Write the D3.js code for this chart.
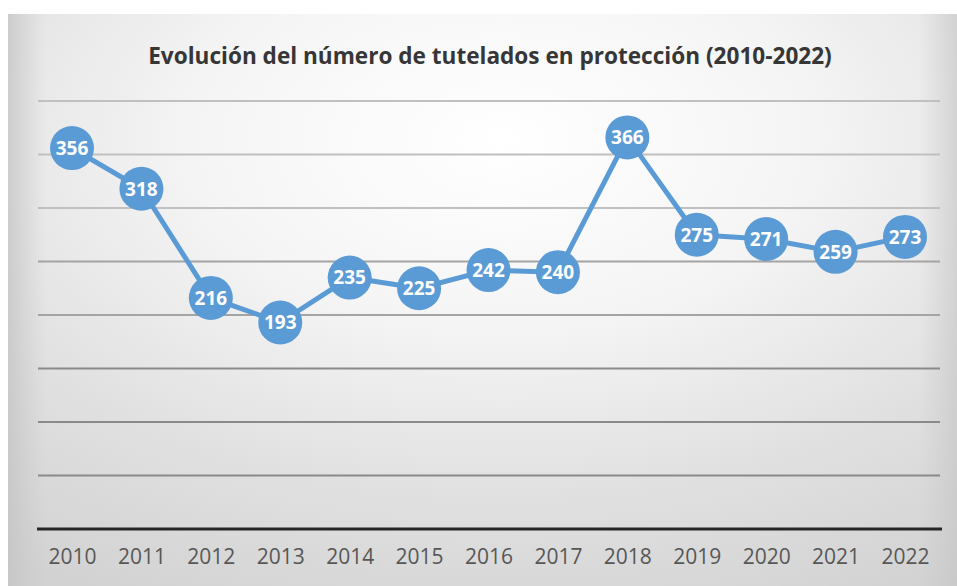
<!DOCTYPE html>
<html>
<head>
<meta charset="utf-8">
<script src="https://cdn.jsdelivr.net/npm/d3@7"></script>
<style>
  html, body { margin: 0; padding: 0; background: #ffffff; }
  svg { display: block; }
</style>
</head>
<body>
<svg id="chart" width="957" height="586"></svg>
<script>
// Tutelados en protección por año
const years = ["2010","2011","2012","2013","2014","2015","2016","2017","2018","2019","2020","2021","2022"];
const tutelados = [356, 318, 216, 193, 235, 225, 242, 240, 366, 275, 271, 259, 273];
const gridTicks = [0, 50, 100, 150, 200, 250, 300, 350, 400];
const titleText = "Evolución del número de tutelados en protección (2010-2022)";

const svg = d3.select("#chart");
const W = 957, H = 586;

// Panel background with soft shading
const defs = svg.append("defs");
const rg = defs.append("radialGradient")
  .attr("id", "bg").attr("cx", "52%").attr("cy", "22%").attr("r", "90%")
  .attr("fx", "52%").attr("fy", "22%");
rg.append("stop").attr("offset", "0%").attr("stop-color", "#ffffff");
rg.append("stop").attr("offset", "35%").attr("stop-color", "#f5f5f5");
rg.append("stop").attr("offset", "70%").attr("stop-color", "#e0e0e0");
rg.append("stop").attr("offset", "100%").attr("stop-color", "#d2d2d2");

const lg = defs.append("linearGradient").attr("id", "edge").attr("x1", "0").attr("x2", "1");
lg.append("stop").attr("offset", "0%").attr("stop-color", "#c2c2c2").attr("stop-opacity", 0.7);
lg.append("stop").attr("offset", "4%").attr("stop-color", "#c8c8c8").attr("stop-opacity", 0.0);
lg.append("stop").attr("offset", "96%").attr("stop-color", "#c8c8c8").attr("stop-opacity", 0.0);
lg.append("stop").attr("offset", "100%").attr("stop-color", "#c4c4c4").attr("stop-opacity", 0.6);

svg.append("rect").attr("x", 8).attr("y", 14).attr("width", W - 8).attr("height", H - 14)
  .attr("fill", "url(#bg)");
svg.append("rect").attr("x", 8).attr("y", 14).attr("width", W - 8).attr("height", H - 14)
  .attr("fill", "url(#edge)");

// Scales
const x = d3.scalePoint().domain(years).range([72, 905]);
const y = d3.scaleLinear().domain([0, 400]).range([529, 101]);

// Gridlines
svg.append("g").selectAll("line")
  .data(gridTicks.filter(d => d > 0))
  .join("line")
  .attr("x1", 38).attr("x2", 940)
  .attr("y1", d => y(d)).attr("y2", d => y(d))
  .attr("stroke", d => d >= 300 ? "#c0c0c0" : (d >= 200 ? "#a4a4a4" : "#8a8a8a"))
  .attr("stroke-width", 1.8);

// Baseline
svg.append("line")
  .attr("x1", 37).attr("x2", 942)
  .attr("y1", y(0)).attr("y2", y(0))
  .attr("stroke", "#262626").attr("stroke-width", 3.2);

// Category axis labels
const xAxis = d3.axisBottom(x).tickSize(0).tickPadding(0);
const gx = svg.append("g").attr("transform", `translate(0,${y(0) + 16})`).call(xAxis);
gx.select(".domain").remove();
gx.selectAll("text")
  .attr("dy", "0.9em")
  .attr("font-family", "'Open Sans', sans-serif")
  .attr("font-size", 21)
  .attr("fill", "#575757");

// Title, sized so it spans about 684px
const title = svg.append("text")
  .attr("x", 490).attr("y", 64)
  .attr("text-anchor", "middle")
  .attr("font-family", "'Liberation Sans Narrow', 'Open Sans', sans-serif")
  .attr("font-weight", "bold")
  .attr("font-size", 27)
  .attr("fill", "#363636")
  .text(titleText);
const tw = title.node().getComputedTextLength();
if (tw > 0) title.attr("font-size", Math.min(30, 27 * 684 / tw));

// Series line
const blue = "#5b9bd5";
const line = d3.line().x((d, i) => x(years[i])).y(d => y(d));
svg.append("path")
  .datum(tutelados)
  .attr("d", line)
  .attr("fill", "none")
  .attr("stroke", blue)
  .attr("stroke-width", 5)
  .attr("stroke-linejoin", "round");

// Markers with value labels
const pts = svg.append("g").selectAll("g")
  .data(tutelados)
  .join("g")
  .attr("transform", (d, i) => `translate(${x(years[i])},${y(d)})`);
pts.append("circle").attr("r", 22).attr("fill", blue);
pts.append("text")
  .attr("text-anchor", "middle")
  .attr("dy", "0.36em")
  .attr("font-family", "'Open Sans', sans-serif")
  .attr("font-weight", "bold")
  .attr("font-size", 19)
  .attr("fill", "#ffffff")
  .text(d => d);
</script>
</body>
</html>
